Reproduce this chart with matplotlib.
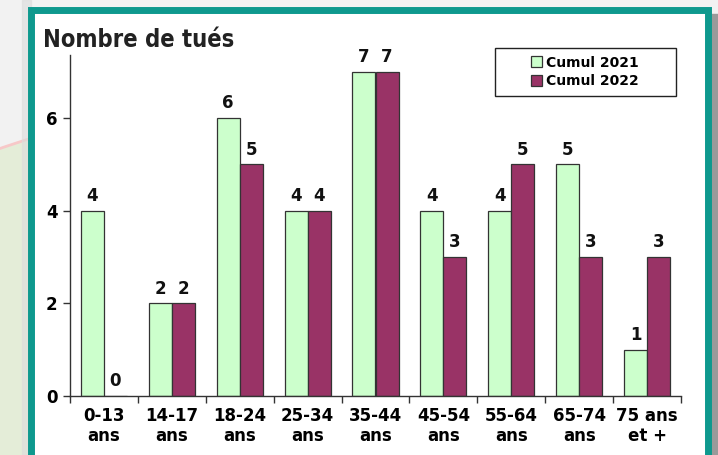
import numpy as np
import matplotlib
matplotlib.use("Agg")
import matplotlib.pyplot as plt
from matplotlib.patches import Rectangle, Circle

# data
categories = ["0-13\nans", "14-17\nans", "18-24\nans", "25-34\nans", "35-44\nans",
              "45-54\nans", "55-64\nans", "65-74\nans", "75 ans\net +"]
cumul_2021 = [4, 2, 6, 4, 7, 4, 4, 5, 1]
cumul_2022 = [0, 2, 5, 4, 7, 3, 5, 3, 3]
series_names = ["Cumul 2021", "Cumul 2022"]

W, H = 718, 455
fig = plt.figure(figsize=(W / 100, H / 100), dpi=100)
fig.patch.set_facecolor("#f2f2f2")

# background decoration outside the frame
bg = fig.add_axes([0, 0, 1, 1])
bg.set_xlim(0, W)
bg.set_ylim(H, 0)
bg.axis("off")
bg.add_patch(Rectangle((0, 0), W, H, color="#f2f2f2", zorder=0))
bg.add_patch(Circle((400, 1300), 1219, facecolor="#e4edd8", edgecolor="#f7c8c8", lw=2, zorder=1))
bg.add_patch(Rectangle((22, 0), 9, H, color="#dcdcdc", alpha=0.6, zorder=2))
bg.add_patch(Rectangle((710, 14), 8, H, color="#9a9a9a", zorder=2))
bg.add_patch(Rectangle((31, 10), 677, H, facecolor="white", edgecolor="#0e998e", lw=5, zorder=3))
# legend frame
bg.add_patch(Rectangle((495, 48), 181, 48, facecolor="white", edgecolor="#222222", lw=1, zorder=4))

ax = fig.add_axes([70 / W, (H - 396) / H, (681 - 70) / W, (396 - 55) / H])
ax.patch.set_alpha(0)

x = np.arange(len(categories))
bw = 0.34
b1 = ax.bar(x - bw / 2, cumul_2021, bw, color="#ccffcc", edgecolor="#333333", lw=0.9, label=series_names[0])
b2 = ax.bar(x + bw / 2, cumul_2022, bw, color="#993366", edgecolor="#333333", lw=0.9, label=series_names[1])

for bars in (b1, b2):
    for r in bars:
        v = r.get_height()
        ax.text(r.get_x() + r.get_width() / 2, v + 0.12, "%d" % v, ha="center", va="bottom",
                fontsize=12, fontweight="bold", color="#111111")

ax.set_xlim(-0.5, len(categories) - 0.5)
ax.set_ylim(0, 7.36)
ax.set_yticks([0, 2, 4, 6])
ax.set_xticks(np.arange(len(categories) + 1) - 0.5)
ax.set_xticklabels([])
ax.set_xticks(x, minor=True)
ax.set_xticklabels(categories, minor=True, fontsize=12, fontweight="bold", linespacing=1.1)
ax.tick_params(axis="x", which="minor", length=0, pad=8)
ax.tick_params(axis="x", which="major", length=5, width=1, color="#333333")
ax.tick_params(axis="y", length=5, width=1, color="#333333", labelsize=12, pad=4)
for t in ax.get_yticklabels():
    t.set_fontweight("bold")

for s in ["top", "right"]:
    ax.spines[s].set_visible(False)
for s in ["left", "bottom"]:
    ax.spines[s].set_color("#333333")
    ax.spines[s].set_linewidth(1)

leg = ax.legend(loc="center", bbox_to_anchor=((585 - 70) / 611, (396 - 72) / 341), frameon=False,
                prop={"weight": "bold", "size": 10}, handlelength=0.8, handleheight=0.8,
                handletextpad=0.25, borderpad=0, labelspacing=0.35, borderaxespad=0)

fig.text(43 / W, 1 - 47 / H, "Nombre de tués", fontsize=17, fontweight="bold",
         family="DejaVu Sans", fontstretch="condensed", color="#222222", va="baseline", ha="left")

fig.savefig("out.png", dpi=100)
